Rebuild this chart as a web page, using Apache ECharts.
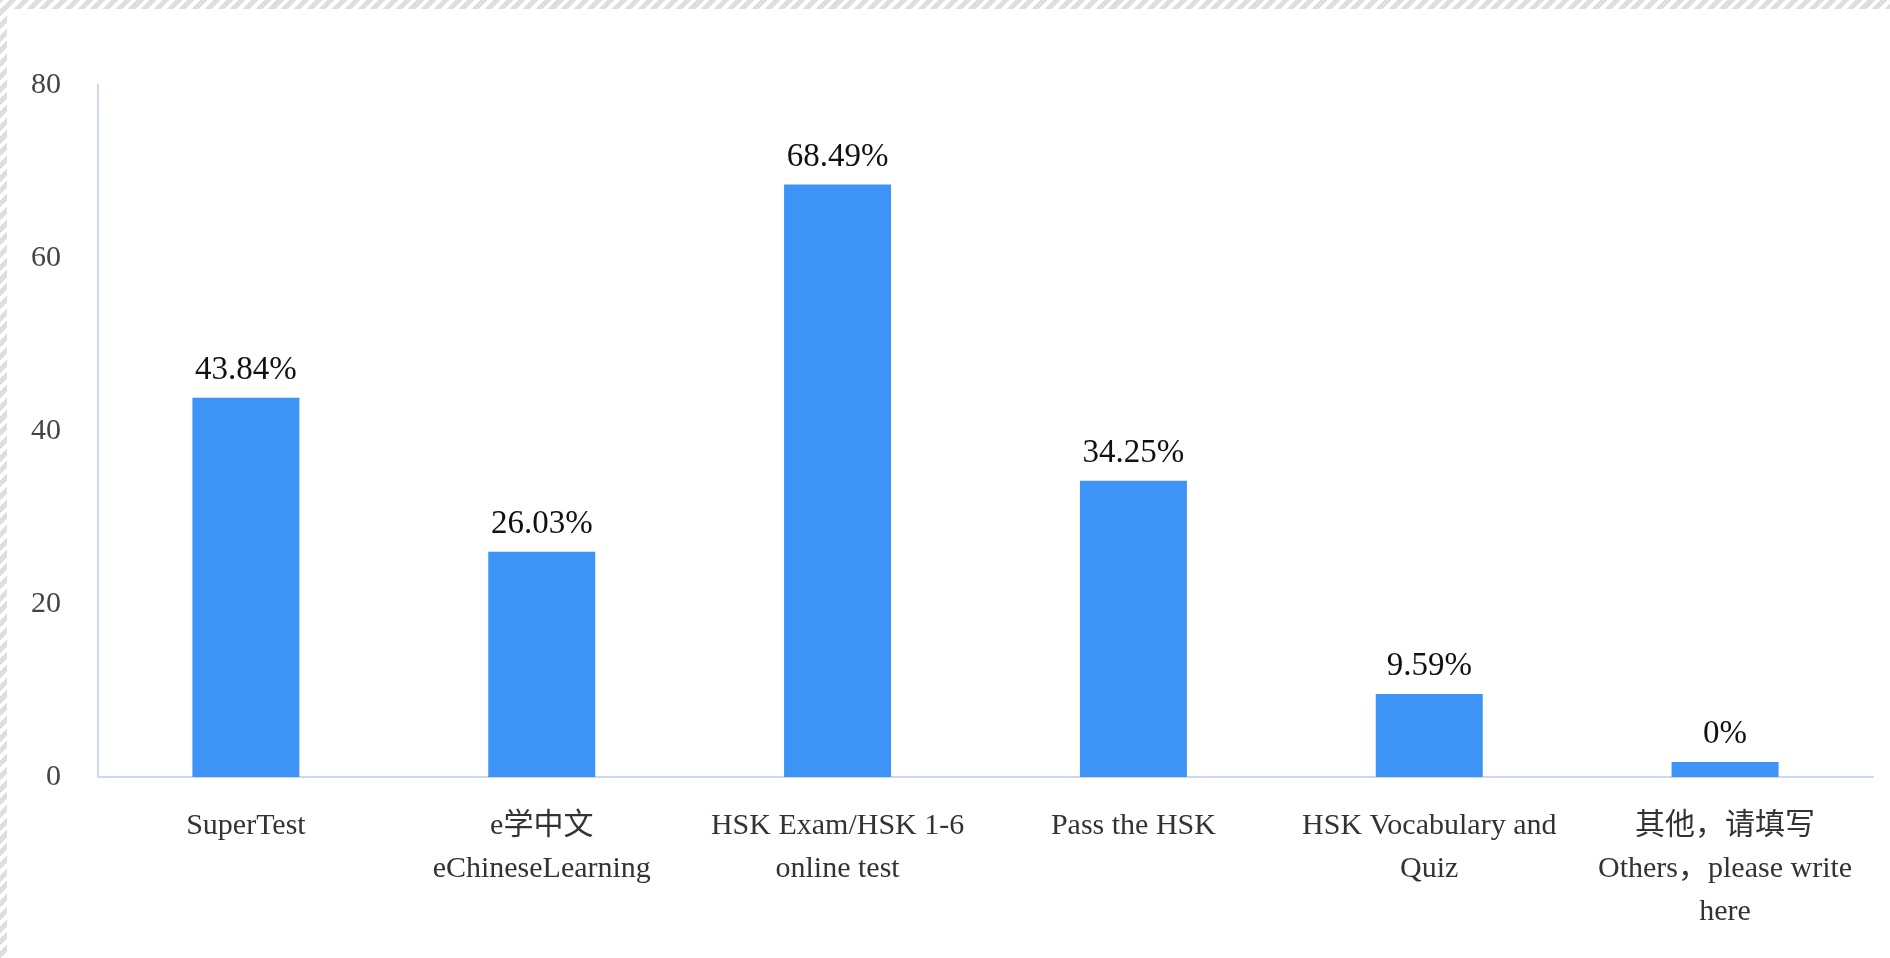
<!DOCTYPE html>
<html>
<head>
<meta charset="utf-8">
<script src="https://cdn.jsdelivr.net/npm/echarts@6/dist/echarts.min.js"></script>
<style>
  html, body { margin: 0; padding: 0; }
  body {
    width: 1890px; height: 958px; overflow: hidden; position: relative;
    background: repeating-linear-gradient(-45deg, #ffffff 0px, #ffffff 4px, #dedede 4px, #dedede 9px);
  }
  #panel { position: absolute; left: 7px; top: 9px; right: 0; bottom: 0; background: #fff; }
  #chart { position: absolute; left: 0; top: 0; width: 1890px; height: 958px; }
</style>
</head>
<body>
<div id="panel"></div>
<div id="chart"></div>
<script>
const categories = [
  'SuperTest',
  'e学中文\neChineseLearning',
  'HSK Exam/HSK 1-6\nonline test',
  'Pass the HSK',
  'HSK Vocabulary and\nQuiz',
  '其他，请填写\nOthers，please write\nhere'
];
const values = [43.84, 26.03, 68.49, 34.25, 9.59, 0];
const yTicks = { min: 0, max: 80, interval: 20 };

const fontFam = '"Liberation Serif", "Times New Roman", "Noto Sans CJK SC", serif';
const chart = echarts.init(document.getElementById('chart'), null, { renderer: 'canvas' });
chart.setOption({
  backgroundColor: 'transparent',
  animation: false,
  grid: { left: 98, right: 17, top: 85, bottom: 181 },
  xAxis: {
    type: 'category',
    data: categories,
    axisLine: { show: true, lineStyle: { color: '#cdd8f0', width: 2 } },
    axisTick: { show: false },
    axisLabel: {
      interval: 0, fontSize: 30, lineHeight: 43, margin: 28,
      color: '#333', fontFamily: fontFam
    }
  },
  yAxis: {
    type: 'value',
    min: yTicks.min, max: yTicks.max, interval: yTicks.interval,
    axisLine: { show: true, lineStyle: { color: '#cdd8f0', width: 2 } },
    axisTick: { show: false },
    splitLine: { show: false },
    axisLabel: { fontSize: 30, margin: 37, color: '#444', fontFamily: fontFam, padding: [8, 0, 0, 0] }
  },
  series: [{
    type: 'bar',
    data: values,
    barWidth: 107,
    barMinHeight: 15,
    itemStyle: { color: '#3d93f6' },
    label: {
      show: true, position: 'top', distance: 11,
      formatter: '{c}%', fontSize: 33, color: '#111', fontFamily: fontFam
    }
  }]
});
</script>
</body>
</html>
